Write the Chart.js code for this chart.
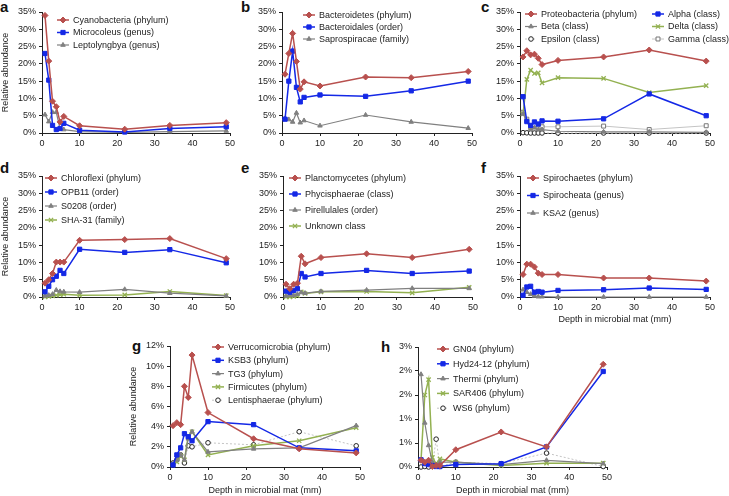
<!DOCTYPE html>
<html>
<head>
<meta charset="utf-8">
<script src="https://cdn.jsdelivr.net/npm/chart.js@4"></script>
<style>
body{margin:0;background:#fff;width:729px;height:496px;position:relative;overflow:hidden;font-family:"Liberation Sans",Arial,sans-serif}
canvas{position:absolute}
.lt{position:absolute;font-weight:bold;font-size:15px;line-height:15px;color:#111}
</style>
</head>
<body>
<div class="lt" style="left:0px;top:-1px">a</div>
<div class="lt" style="left:241px;top:-1px">b</div>
<div class="lt" style="left:481px;top:-1px">c</div>
<div class="lt" style="left:0px;top:160px">d</div>
<div class="lt" style="left:241px;top:160px">e</div>
<div class="lt" style="left:481px;top:160px">f</div>
<div class="lt" style="left:132px;top:338px">g</div>
<div class="lt" style="left:381px;top:339px">h</div>
<canvas id="ca"></canvas><canvas id="cb"></canvas><canvas id="cc"></canvas>
<canvas id="cd"></canvas><canvas id="ce"></canvas><canvas id="cf"></canvas>
<canvas id="cg"></canvas><canvas id="ch"></canvas>
<script>
// depth of each sample (mm)
var depth = [0.8, 1.8, 2.8, 3.8, 4.8, 5.8, 10, 22, 34, 49];

// a
var cyanobacteria = [34, 20.8, 9.2, 7.6, 3.2, 4.8, 2.1, 1.1, 2.2, 3.0];
var microcoleus = [23, 15.3, 2.2, 1.0, 1.3, 2.8, 0.8, 0.3, 1.3, 1.8];
var leptolyngbya = [5.3, 3.3, 6.0, 6.0, 1.2, 1.0, 0.4, 0.2, 0.4, 0.6];
// b
var bacteroidetes = [17, 23, 28.8, 20.7, 12.7, 14.8, 13.6, 16.2, 16, 17.8];
var bacteroidales = [4, 15, 23.7, 13.2, 9, 10.3, 11, 10.6, 12.2, 15];
var saprospiracae = [4.2, 3.9, 3.2, 5.8, 3.0, 3.6, 2.1, 5.2, 3.2, 1.4];
// c
var proteobacteria = [22, 23.8, 22.6, 22.8, 21.6, 19.8, 21, 22, 24, 20.8];
var alpha = [10.5, 3.3, 2.2, 3.2, 2.6, 3.5, 3.4, 4.1, 11.3, 5];
var beta = [5.5, 3.5, 1, 1.5, 1, 1, 0.5, 0.3, 0.3, 0.2];
var delta = [5.5, 15.5, 18.2, 17.2, 17.4, 14.5, 16, 15.8, 11.7, 13.7];
var epsilon = [0.1, 0.05, 0, 0, 0, 0, 0, 0, 0, 0];
var gamma = [6, 4, 1.6, 2.4, 1.4, 1.8, 1.8, 2, 1, 2.1];
// d
var chloroflexi = [4, 5, 6.8, 10.1, 10.1, 10.1, 16.4, 16.6, 16.9, 11.1];
var opb11 = [1.5, 3.1, 5, 6, 7.7, 6.8, 13.8, 12.9, 13.7, 9.9];
var s0208 = [0.3, 0.5, 0.8, 2, 1.6, 1.5, 1.4, 2.2, 1.1, 0.3];
var sha31 = [0, 0.2, 0.3, 0.5, 0.7, 0.8, 0.5, 0.6, 1.6, 0.4];
// e
var planctomycetes = [3.7, 2.4, 3.7, 4, 11.8, 9.6, 11.4, 12.5, 11.4, 13.8];
var phycisphaerae = [1.7, 1.4, 1.9, 2.4, 6.8, 5.8, 6.8, 7.7, 6.8, 7.5];
var pirellulales = [0.3, 0.5, 0.5, 0.8, 1.3, 1.1, 1.6, 2, 2.5, 2.5];
var unknownClass = [0, 0, 0.2, 0.4, 1.5, 1, 1.5, 1.6, 1.2, 2.8];
// f
var spirochaetes = [6.5, 9.5, 9.5, 8.7, 6.9, 6.5, 6.5, 5.5, 5.5, 4.6];
var spirocheata = [0.5, 2.9, 3.1, 1.4, 1.6, 1.4, 1.9, 2.1, 2.6, 2.2];
var ksa2 = [2.1, 1.4, 0.8, 0.3, 0.1, 0.1, 0, 0, 0, 0];
// g
var verrucomicrobia = [4.1, 4.4, 4.2, 8, 6.9, 11.1, 5.4, 2.8, 1.8, 1.4];
var ksb3 = [0.2, 1.2, 1.9, 3.3, 3, 2.6, 4.5, 4.2, 1.9, 1.6];
var tg3 = [0.3, 0.7, 1.2, 0.7, 2.8, 3.5, 1.5, 1.8, 1.9, 4.1];
var firmicutes = [0.2, 0.5, 1.1, 0.7, 3.1, 3.5, 1.2, 2.1, 2.6, 3.9];
var lentisphaerae = [0.4, 0.7, 1.2, 0.4, 2.1, 2, 2.4, 2.2, 3.5, 2.1];
// h
var gn04 = [0.14, 0.1, 0.14, 0.01, 0.03, 0.03, 0.36, 0.73, 0.42, 2.14];
var hyd2412 = [0.15, 0.07, 0.05, 0.03, 0.01, 0.01, 0.05, 0.07, 0.42, 1.99];
var thermi = [1.93, 0.92, 0.45, 0.1, 0.05, 0.1, 0.1, 0.05, 0.14, 0.07];
var sar406 = [0.14, 1.5, 1.82, 0.2, 0.07, 0.17, 0.1, 0.03, 0.08, 0.08];
var ws6 = [0, 0.01, 0, 0.03, 0.58, 0.01, 0.1, 0.07, 0.29, 0.01];

var FONT = '"Liberation Sans", Arial, sans-serif';
var INK = '#222';

var red = {borderColor: '#b8504e', pointStyle: 'rectRot', pointRadius: 3, borderWidth: 1.5};
var blue = {borderColor: '#1428e6', pointStyle: 'rect', pointRadius: 3, borderWidth: 1.5};
var gray = {borderColor: '#808080', pointStyle: 'triangle', pointRadius: 2.6, borderWidth: 1.2};
var green = {borderColor: '#93b151', pointStyle: 'crossRot', pointRadius: 3, borderWidth: 1.5, pointBorderWidth: 1.3};
var ring = {borderColor: '#c4c4c4', borderDash: [2, 2], pointStyle: 'circle', pointRadius: 2.3, borderWidth: 1,
  pointBorderColor: '#222', pointBackgroundColor: '#fff'};
var box = {borderColor: '#c4c4c4', pointStyle: 'rect', pointRadius: 2.8, borderWidth: 1,
  pointBorderColor: '#777', pointBackgroundColor: '#fff'};

function series(label, vals, st) {
  var ds = {label: label, data: depth.map(function (d, i) { return {x: d, y: vals[i]}; }),
    tension: 0, clip: false, fill: false};
  for (var k in st) ds[k] = st[k];
  ds.pointBorderColor = st.pointBorderColor || st.borderColor;
  ds.pointBackgroundColor = st.pointBackgroundColor || st.borderColor;
  ds.backgroundColor = ds.pointBackgroundColor;
  ds.pointBorderWidth = st.pointBorderWidth || 1;
  return ds;
}

// legend drawn inside the plot, line + marker + text
var sideLegend = {
  id: 'sideLegend',
  afterDatasetsDraw: function (chart, args, o) {
    var ctx = chart.ctx;
    ctx.save();
    ctx.font = '9px ' + FONT;
    ctx.textBaseline = 'middle';
    chart.data.datasets.forEach(function (ds, i) {
      var x = o.x[i % o.cols], y = o.y + Math.floor(i / o.cols) * o.dy;
      ctx.strokeStyle = ds.borderColor;
      ctx.lineWidth = ds.borderWidth;
      ctx.setLineDash(ds.borderDash || []);
      ctx.beginPath(); ctx.moveTo(x, y); ctx.lineTo(x + 12, y); ctx.stroke();
      ctx.setLineDash([]);
      ctx.fillStyle = ds.pointBackgroundColor;
      ctx.strokeStyle = ds.pointBorderColor;
      ctx.lineWidth = ds.pointBorderWidth;
      Chart.helpers.drawPoint(ctx, {pointStyle: ds.pointStyle, radius: ds.pointRadius, rotation: 0,
        borderWidth: ds.pointBorderWidth}, x + 6, y);
      ctx.fillStyle = INK;
      ctx.fillText(ds.label, x + 16, y + 0.5);
    });
    ctx.restore();
  }
};

function build(id, geo, ymax, ystep, yfmt, yTitle, xTitle, leg, datasets) {
  var cv = document.getElementById(id);
  cv.width = geo.w; cv.height = geo.h;
  cv.style.left = geo.l + 'px'; cv.style.top = geo.t + 'px';
  var tf = {family: FONT, size: 9};
  new Chart(cv, {
    type: 'line',
    data: {datasets: datasets},
    options: {
      responsive: false, animation: false, devicePixelRatio: 1,
      layout: {padding: {left: 0, top: geo.T - geo.t, right: geo.l + geo.w - geo.R, bottom: 0}},
      plugins: {
        legend: {display: false}, tooltip: {enabled: false},
        sideLegend: {x: leg.x.map(function (v) { return v - geo.l; }), y: leg.y - geo.t, dy: leg.dy, cols: leg.x.length}
      },
      scales: {
        x: {
          type: 'linear', min: 0, max: 50,
          ticks: {stepSize: 10, font: tf, color: INK, padding: 2, maxRotation: 0},
          grid: {drawOnChartArea: false, tickLength: 3, color: INK},
          border: {color: INK, width: 1},
          title: {display: xTitle, text: 'Depth in microbial mat (mm)', font: {family: FONT, size: 9}, color: INK, padding: 0},
          afterFit: function (s) { s.height = geo.t + geo.h - geo.B; }
        },
        y: {
          min: 0, max: ymax,
          ticks: {stepSize: ystep, font: tf, color: INK, padding: 3, callback: yfmt},
          grid: {drawOnChartArea: false, tickLength: 3, color: INK},
          border: {color: INK, width: 1},
          title: {display: yTitle, text: 'Relative abundance', font: {family: FONT, size: 9}, color: INK, padding: 0},
          afterFit: function (s) { s.width = geo.L - geo.l; }
        }
      }
    },
    plugins: [sideLegend]
  });
}

function pct(v) { return v + '%'; }
function pctRound(v) { return Math.round(v) + '%'; }

build('ca', {l: 0, t: 0, w: 240, h: 152, L: 42, T: 12, R: 230, B: 133}, 35, 5, pct, true, false,
  {x: [57], y: 20, dy: 12.5},
  [series('Cyanobacteria (phylum)', cyanobacteria, red),
   series('Microcoleus (genus)', microcoleus, blue),
   series('Leptolyngbya (genus)', leptolyngbya, gray)]);

build('cb', {l: 240, t: 0, w: 240, h: 152, L: 282, T: 12, R: 472, B: 133}, 35, 5, pct, false, false,
  {x: [303], y: 15, dy: 12},
  [series('Bacteroidetes (phylum)', bacteroidetes, red),
   series('Bacteroidales (order)', bacteroidales, blue),
   series('Saprospiracae (family)', saprospiracae, gray)]);

build('cc', {l: 480, t: 0, w: 249, h: 152, L: 520, T: 12, R: 710, B: 133}, 35, 5, pct, false, false,
  {x: [525, 652], y: 14, dy: 12.5},
  [series('Proteobacteria (phylum)', proteobacteria, red),
   series('Alpha (class)', alpha, blue),
   series('Beta (class)', beta, gray),
   series('Delta (class)', delta, green),
   series('Epsilon (class)', epsilon, ring),
   series('Gamma (class)', gamma, box)]);

build('cd', {l: 0, t: 140, w: 240, h: 175, L: 42, T: 176, R: 230, B: 297}, 35, 5, pct, true, false,
  {x: [45], y: 178, dy: 14},
  [series('Chloroflexi (phylum)', chloroflexi, red),
   series('OPB11 (order)', opb11, blue),
   series('S0208 (order)', s0208, gray),
   series('SHA-31 (family)', sha31, green)]);

build('ce', {l: 240, t: 140, w: 240, h: 175, L: 283, T: 176, R: 473, B: 297}, 35, 5, pct, false, false,
  {x: [289], y: 178, dy: 16},
  [series('Planctomycetes (phylum)', planctomycetes, red),
   series('Phycisphaerae (class)', phycisphaerae, blue),
   series('Pirellulales (order)', pirellulales, gray),
   series('Unknown class', unknownClass, green)]);

build('cf', {l: 480, t: 140, w: 249, h: 185, L: 520, T: 176, R: 710, B: 297}, 35, 5, pct, false, true,
  {x: [527], y: 178, dy: 17.5},
  [series('Spirochaetes (phylum)', spirochaetes, red),
   series('Spirocheata (genus)', spirocheata, blue),
   series('KSA2 (genus)', ksa2, gray)]);

build('cg', {l: 128, t: 335, w: 240, h: 161, L: 170, T: 346, R: 360, B: 467}, 12, 2, pct, true, true,
  {x: [212], y: 347, dy: 13.3},
  [series('Verrucomicrobia (phylum)', verrucomicrobia, red),
   series('KSB3 (phylum)', ksb3, blue),
   series('TG3 (phylum)', tg3, gray),
   series('Firmicutes (phylum)', firmicutes, green),
   series('Lentisphaerae (phylum)', lentisphaerae, ring)]);

build('ch', {l: 376, t: 335, w: 240, h: 161, L: 418, T: 347, R: 607, B: 467}, 2.5, 0.5, pctRound, false, true,
  {x: [437], y: 349, dy: 14.8},
  [series('GN04 (phylum)', gn04, red),
   series('Hyd24-12 (phylum)', hyd2412, blue),
   series('Thermi (phylum)', thermi, gray),
   series('SAR406 (phylum)', sar406, green),
   series('WS6 (phylum)', ws6, ring)]);
</script>
</body>
</html>
